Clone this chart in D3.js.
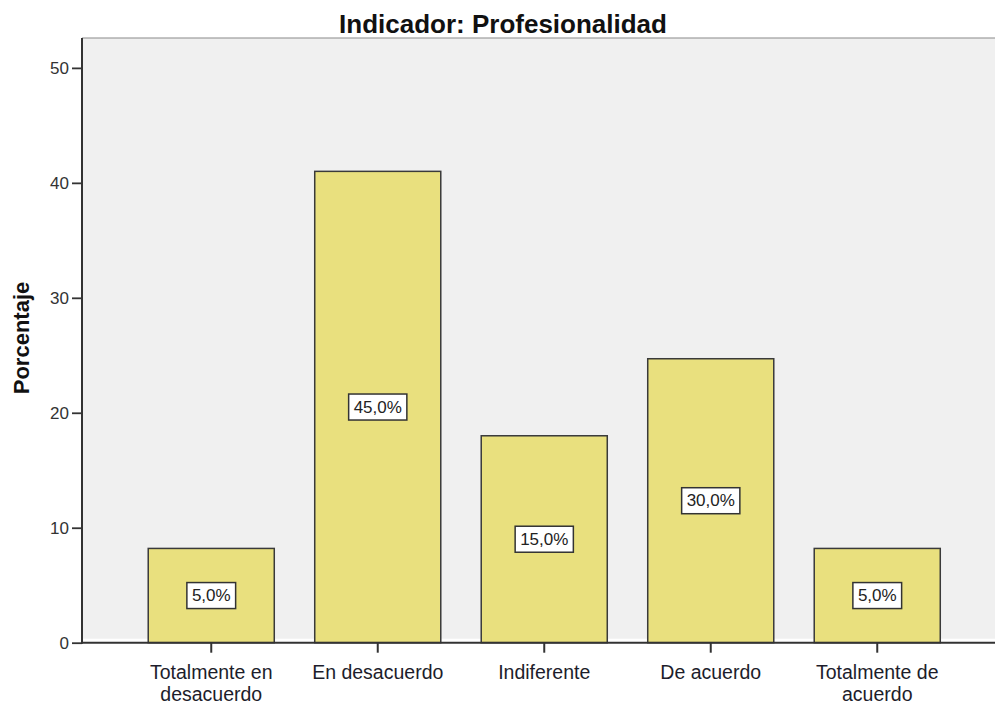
<!DOCTYPE html>
<html>
<head>
<meta charset="utf-8">
<script src="https://cdn.jsdelivr.net/npm/d3@7"></script>
<style>
  html, body { margin: 0; padding: 0; background: #fff; }
  svg { display: block; }
  text { font-family: "Liberation Sans", Arial, sans-serif; }
</style>
</head>
<body>
<svg id="chart" width="995" height="709"></svg>
<script>
// ---- data ----
const titleText = "Indicador: Profesionalidad";
const yAxisTitle = "Porcentaje";
const categories = ["Totalmente en desacuerdo", "En desacuerdo", "Indiferente", "De acuerdo", "Totalmente de acuerdo"];
const categoryLines = [["Totalmente en", "desacuerdo"], ["En desacuerdo"], ["Indiferente"], ["De acuerdo"], ["Totalmente de", "acuerdo"]];
const barValues = [8.2, 41.0, 18.0, 24.7, 8.2];
const barLabels = ["5,0%", "45,0%", "15,0%", "30,0%", "5,0%"];
const yTicks = [0, 10, 20, 30, 40, 50];

// ---- layout ----
const svg = d3.select("#chart");
const plotLeft = 82, plotTop = 38, plotRight = 1006, axisY = 642.7;

const y = d3.scaleLinear().domain([0, 52.6]).range([axisY, plotTop]);
const x = d3.scaleBand().domain(categories).range([128, 960.5])
  .paddingInner(0.243).paddingOuter(0.1215);

// plot background
svg.append("rect")
  .attr("x", plotLeft).attr("y", plotTop)
  .attr("width", plotRight - plotLeft).attr("height", axisY - 4 - plotTop)
  .attr("fill", "#f0f0f0");

// top frame line
svg.append("line")
  .attr("x1", plotLeft).attr("x2", plotRight)
  .attr("y1", plotTop).attr("y2", plotTop)
  .attr("stroke", "#8a8a8a").attr("stroke-width", 1.2);

// bars
svg.selectAll("rect.bar").data(categories).join("rect")
  .attr("class", "bar")
  .attr("x", d => x(d))
  .attr("y", (d, i) => y(barValues[i]))
  .attr("width", x.bandwidth())
  .attr("height", (d, i) => y(0) - y(barValues[i]))
  .attr("fill", "#e9e07e")
  .attr("stroke", "#3a3a3a")
  .attr("stroke-width", 1.5);

// y axis
const yAxis = d3.axisLeft(y).tickValues(yTicks).tickSize(10).tickPadding(3).tickFormat(d3.format("d"));
const gy = svg.append("g").attr("transform", `translate(${plotLeft},0)`).call(yAxis);
gy.select(".domain").remove();
gy.selectAll(".tick line").attr("stroke", "#333").attr("stroke-width", 1.8);
gy.selectAll(".tick text").attr("fill", "#333").style("font-size", "17px")
  .style("font-family", "'Liberation Sans', Arial, sans-serif");
svg.append("line")
  .attr("x1", plotLeft).attr("x2", plotLeft)
  .attr("y1", plotTop).attr("y2", axisY + 1)
  .attr("stroke", "#333").attr("stroke-width", 2);

// x axis
const xAxis = d3.axisBottom(x).tickSize(10).tickFormat("");
const gx = svg.append("g").attr("transform", `translate(0,${axisY})`).call(xAxis);
gx.select(".domain").remove();
gx.selectAll(".tick line").attr("stroke", "#333").attr("stroke-width", 2);
svg.append("line")
  .attr("x1", plotLeft - 1).attr("x2", plotRight)
  .attr("y1", axisY).attr("y2", axisY)
  .attr("stroke", "#333").attr("stroke-width", 2);

// category labels
categories.forEach((c, i) => {
  const t = svg.append("text")
    .attr("x", x(c) + x.bandwidth() / 2)
    .attr("y", 679)
    .attr("text-anchor", "middle")
    .attr("fill", "#1d1d2b")
    .style("font-size", "19.5px");
  categoryLines[i].forEach((ln, j) => {
    t.append("tspan").attr("x", x(c) + x.bandwidth() / 2).attr("dy", j === 0 ? 0 : 22).text(ln);
  });
});

// value label boxes
categories.forEach((c, i) => {
  const cx = x(c) + x.bandwidth() / 2;
  const cy = (y(barValues[i]) + y(0)) / 2;
  const g = svg.append("g");
  const rect = g.append("rect");
  const t = g.append("text")
    .attr("x", cx).attr("y", cy)
    .attr("text-anchor", "middle")
    .attr("dominant-baseline", "central")
    .attr("fill", "#222")
    .style("font-size", "17px")
    .text(barLabels[i]);
  const w = t.node().getComputedTextLength() + 10;
  rect.attr("x", cx - w / 2).attr("y", cy - 13)
    .attr("width", w).attr("height", 26)
    .attr("fill", "#fff").attr("stroke", "#333").attr("stroke-width", 1.5);
});

// title
svg.append("text")
  .attr("x", 503).attr("y", 33)
  .attr("text-anchor", "middle")
  .attr("fill", "#111")
  .style("font-size", "26px").style("font-weight", "bold")
  .text(titleText);

// y-axis title
svg.append("text")
  .attr("transform", "translate(29,338) rotate(-90)")
  .attr("text-anchor", "middle")
  .attr("fill", "#111")
  .style("font-size", "22px").style("font-weight", "bold")
  .text(yAxisTitle);
</script>
</body>
</html>
